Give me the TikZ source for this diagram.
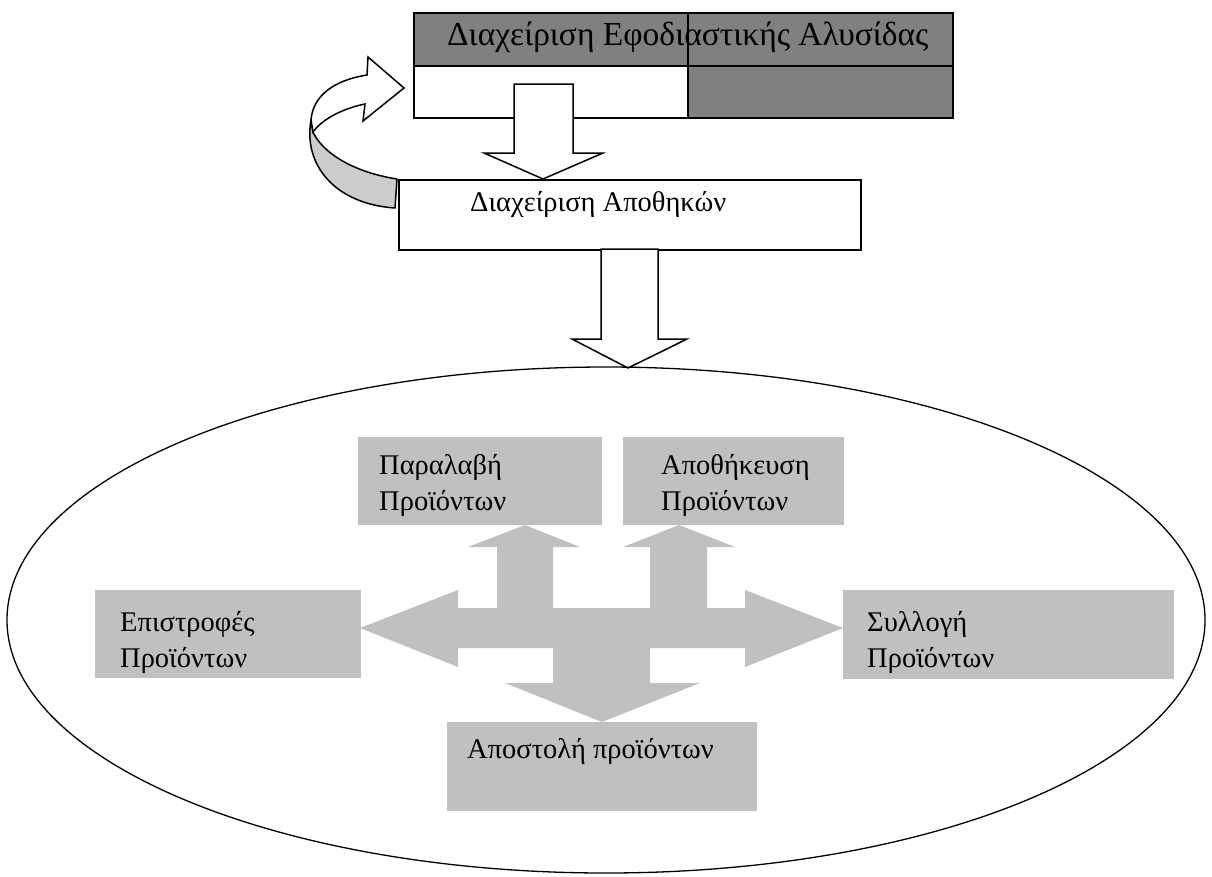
\documentclass[tikz,border=0pt]{standalone}
\usepackage{fontspec}
\setmainfont{Liberation Serif}
\definecolor{darkcell}{HTML}{808080}
\definecolor{boxgray}{HTML}{C0C0C0}
\definecolor{ribbon}{HTML}{CCCCCC}
\begin{document}
\begin{tikzpicture}[x=1pt,y=-1pt,
  line/.style={line width=1.5pt,line join=miter},
  graybox/.style={fill=boxgray,draw=none,inner sep=0pt,anchor=north west},
  whitebox/.style={fill=white,draw=black,line width=1.5pt,inner sep=0pt,anchor=north west},
  txt/.style={inner sep=0pt,anchor=base west,align=left,font=\fontsize{28.5}{36}\selectfont},
  titletxt/.style={inner sep=0pt,anchor=base west,font=\fontsize{33.5}{38}\selectfont},
  blockarrow/.style={fill=white,draw=black,line width=1.5pt,line join=miter}]
\useasboundingbox (0,0) rectangle (1212,876);
\fill[white] (0,0) rectangle (1212,876);

% ---- table (top) ----
\fill[darkcell] (414,13) rectangle (953,66);
\fill[darkcell] (688,66) rectangle (953,118);
\draw[line] (414,13) rectangle (953,118);
\draw[line] (414,66) -- (953,66);
\draw[line] (688,13) -- (688,118);
\node[titletxt] (title) at (447,45) {Διαχείριση Εφοδιαστικής Αλυσίδας};

% ---- curved arrow (left) ----
\filldraw[fill=ribbon,draw=black,line width=1.5pt,line join=round]
  (397,179) .. controls (352,172) and (322,152) .. (313,132)
  -- (311,120) .. controls (303,165) and (335,204) .. (395,208) -- cycle;
\filldraw[fill=white,draw=black,line width=1.5pt,line join=miter]
  (311,120) .. controls (313,95) and (335,80) .. (367,75)
  -- (368,57) -- (404,88) -- (363,121) -- (365,104)
  .. controls (345,108) and (323,118) .. (313,132) -- cycle;

% ---- down arrow 1 ----
\draw[blockarrow] (514,84) -- (573,84) -- (573,153) -- (603,153) -- (543,179)
  -- (484,153) -- (514,153) -- cycle;

% ---- warehouse management box ----
\node[whitebox,minimum width=462pt,minimum height=70pt] (wm) at (398,179) {};
\node[txt] (wmt) at (470,211) {Διαχείριση Αποθηκών};

% ---- down arrow 2 ----
\draw[blockarrow] (601,249) -- (658,249) -- (658,339) -- (687,339) -- (628,368)
  -- (572,339) -- (601,339) -- cycle;

% ---- ellipse ----
\draw[line width=1.3pt] (606,620) ellipse [x radius=599, y radius=253];

% ---- gray boxes ----
\node[graybox,minimum width=244pt,minimum height=88pt] (rec) at (358,437) {};
\node[graybox,minimum width=221pt,minimum height=88pt] (sto) at (623,437) {};
\node[graybox,minimum width=266pt,minimum height=88pt] (ret) at (95,590) {};
\node[graybox,minimum width=331pt,minimum height=89pt] (col) at (843,590) {};
\node[graybox,minimum width=310pt,minimum height=89pt] (shp) at (447,722) {};

% anchors are at the baseline of the last line
\node[txt] (rect) at (379,510) {Παραλαβή\\Προϊόντων};
\node[txt] (stot) at (661,510) {Αποθήκευση\\Προϊόντων};
\node[txt] (rett) at (120,667) {Επιστροφές\\Προϊόντων};
\node[txt] (colt) at (867,667) {Συλλογή\\Προϊόντων};
\node[txt] (shpt) at (467,758) {Αποστολή προϊόντων};

% ---- central multi-headed arrow ----
\fill[boxgray]
  (360,628) -- (458,590) -- (458,608) -- (497,608) -- (497,547) -- (468,547)
  -- (525,525) -- (580,547) -- (553,547) -- (553,608) -- (650,608)
  -- (650,547) -- (623,547) -- (679,525) -- (735,547) -- (707,547)
  -- (707,608) -- (745,608) -- (745,590) -- (843,628) -- (745,667)
  -- (745,648) -- (650,648) -- (650,683) -- (700,683) -- (602,722)
  -- (505,683) -- (553,683) -- (553,648) -- (458,648) -- (458,667) -- cycle;
\end{tikzpicture}
\end{document}
